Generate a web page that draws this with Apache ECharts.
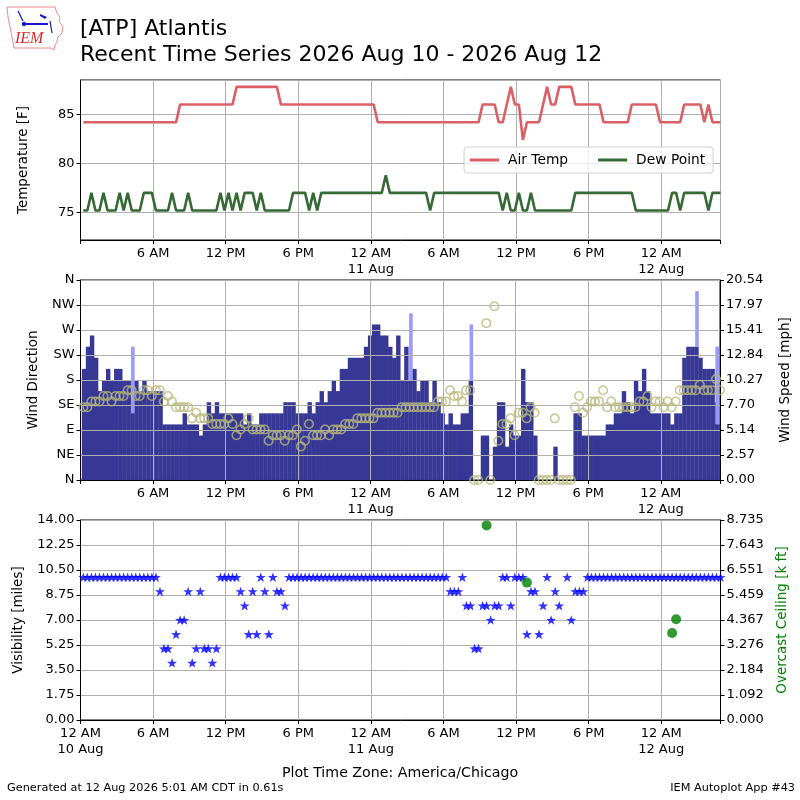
<!DOCTYPE html>
<html>
<head>
<meta charset="utf-8">
<script src="https://cdn.jsdelivr.net/npm/echarts@6/dist/echarts.min.js"></script>
<style>
  html, body { margin: 0; padding: 0; background: #fff; }
  #chart { width: 800px; height: 800px; }
</style>
</head>
<body>
<div id="chart"></div>
<script>
// obs every 20 minutes, first one 00:14 on 10 Aug (x axis = hours since 10 Aug 00:00)
var FIRST_MIN = 14;
var STEP_MIN = 20;
var X_MAX = 52.9;

var airTemp = [
  84.2, 84.2, 84.2, 84.2, 84.2, 84.2, 84.2, 84.2, 84.2, 84.2, 84.2, 84.2,
  84.2, 84.2, 84.2, 84.2, 84.2, 84.2, 84.2, 84.2, 84.2, 84.2, 84.2, 84.2,
  86, 86, 86, 86, 86, 86, 86, 86, 86, 86, 86, 86,
  86, 86, 87.8, 87.8, 87.8, 87.8, 87.8, 87.8, 87.8, 87.8, 87.8, 87.8,
  87.8, 86, 86, 86, 86, 86, 86, 86, 86, 86, 86, 86,
  86, 86, 86, 86, 86, 86, 86, 86, 86, 86, 86, 86,
  86, 84.2, 84.2, 84.2, 84.2, 84.2, 84.2, 84.2, 84.2, 84.2, 84.2, 84.2,
  84.2, 84.2, 84.2, 84.2, 84.2, 84.2, 84.2, 84.2, 84.2, 84.2, 84.2, 84.2,
  84.2, 84.2, 84.2, 86, 86, 86, 86, 84.2, 84.2, 86, 87.8, 86,
  86, 82.4, 84.2, 84.2, 84.2, 84.2, 86, 87.8, 86, 86, 87.8, 87.8,
  87.8, 87.8, 86, 86, 86, 86, 86, 86, 86, 84.2, 84.2, 84.2,
  84.2, 84.2, 84.2, 84.2, 86, 86, 86, 86, 86, 86, 86, 84.2,
  84.2, 84.2, 84.2, 84.2, 84.2, 86, 86, 86, 86, 86, 84.2, 86,
  84.2, 84.2, 84.2
];
var dewPoint = [
  75.2, 75.2, 77, 75.2, 75.2, 77, 75.2, 75.2, 75.2, 77, 75.2, 77,
  75.2, 75.2, 75.2, 77, 77, 77, 75.2, 75.2, 75.2, 75.2, 77, 75.2,
  75.2, 75.2, 77, 75.2, 75.2, 75.2, 75.2, 75.2, 75.2, 75.2, 77, 75.2,
  77, 75.2, 77, 75.2, 77, 77, 77, 75.2, 77, 75.2, 75.2, 75.2,
  75.2, 75.2, 75.2, 75.2, 77, 77, 77, 77, 75.2, 77, 75.2, 77,
  77, 77, 77, 77, 77, 77, 77, 77, 77, 77, 77, 77,
  77, 77, 77, 78.8, 77, 77, 77, 77, 77, 77, 77, 77,
  77, 77, 75.2, 77, 77, 77, 77, 77, 77, 77, 77, 77,
  77, 77, 77, 77, 77, 77, 77, 77, 75.2, 77, 75.2, 75.2,
  77, 75.2, 75.2, 77, 75.2, 75.2, 75.2, 75.2, 75.2, 75.2, 75.2, 75.2,
  75.2, 75.2, 77, 77, 77, 77, 77, 77, 77, 77, 77, 77,
  77, 77, 77, 77, 77, 75.2, 75.2, 75.2, 75.2, 75.2, 75.2, 75.2,
  75.2, 75.2, 77, 77, 75.2, 77, 77, 77, 77, 77, 77, 75.2,
  77, 77, 77
];
// wind direction [deg], 0 = calm
var windDir = [
  200, 240, 260, 220, 160, 180, 200, 180, 200, 200, 180, 180,
  180, 180, 160, 180, 160, 160, 160, 160, 100, 100, 100, 100,
  100, 120, 100, 100, 100, 80, 100, 140, 120, 140, 120, 120,
  120, 120, 120, 120, 100, 120, 100, 100, 120, 120, 120, 120,
  120, 120, 140, 140, 140, 120, 120, 120, 140, 120, 140, 160,
  140, 160, 180, 160, 200, 200, 220, 220, 220, 220, 240, 260,
  280, 280, 260, 260, 240, 220, 260, 180, 240, 180, 200, 160,
  180, 180, 140, 180, 140, 120, 100, 120, 100, 100, 120, 120,
  180, 0, 0, 80, 80, 0, 60, 140, 140, 60, 100, 80,
  80, 200, 140, 140, 80, 0, 0, 0, 0, 60, 0, 0,
  0, 0, 120, 120, 80, 80, 80, 80, 80, 80, 100, 100,
  120, 120, 160, 140, 120, 180, 160, 200, 160, 120, 120, 120,
  120, 120, 100, 120, 120, 220, 240, 240, 240, 220, 200, 200,
  200, 140, 100
];
// wind speed [mph]
var windSpeed = [
  7.48, 7.48, 8.06, 8.06, 8.06, 8.63, 8.63, 8.06, 8.63, 8.63, 8.63, 9.21,
  9.21, 8.63, 8.63, 9.21, 9.21, 8.63, 9.21, 9.21, 8.06, 8.63, 8.06, 7.48,
  7.48, 7.48, 7.48, 6.33, 6.90, 6.33, 6.33, 6.33, 5.75, 5.75, 5.75, 5.75,
  6.33, 5.75, 4.60, 5.18, 5.75, 6.33, 5.18, 5.18, 5.18, 5.18, 4.03, 4.60,
  4.60, 4.60, 4.03, 4.60, 4.60, 5.18, 3.45, 4.03, 5.75, 4.60, 4.60, 4.60,
  5.18, 4.60, 5.18, 5.18, 5.18, 5.75, 5.75, 5.75, 6.33, 6.33, 6.33, 6.33,
  6.33, 6.90, 6.90, 6.90, 6.90, 6.90, 6.90, 7.48, 7.48, 7.48, 7.48, 7.48,
  7.48, 7.48, 7.48, 7.48, 8.06, 8.06, 8.06, 9.21, 8.63, 8.63, 8.06, 9.21,
  9.21, 0, 0, null, 16.11, 0, 17.84, 4.03, 5.75, 5.75, 6.33, 4.60,
  6.90, 6.90, 6.33, 7.48, 6.90, 0, 0, 0, 0, 6.33, 0, 0,
  0, 0, 7.48, 8.63, 6.90, 7.48, 8.06, 8.06, 8.06, 9.21, 7.48, 8.06,
  7.48, 7.48, 7.48, 7.48, 7.48, 7.48, 8.06, 8.06, 8.63, 7.48, 8.06, 8.06,
  7.48, 8.06, 7.48, 8.06, 9.21, 9.21, 9.21, 9.21, 9.21, 9.78, 9.21, 9.21,
  9.21, 10.36, 9.21
];
// variable wind direction ranges
var varIdx = [12, 81, 96, 152, 157];
var varLo = [120, 180, 180, 240, 100];
var varHi = [240, 300, 280, 340, 240];
// visibility [miles]
var visibility = [
  10, 10, 10, 10, 10, 10, 10, 10, 10, 10, 10, 10,
  10, 10, 10, 10, 10, 10, 10, 9, 5, 5, 4, 6,
  7, 7, 9, 4, 5, 9, 5, 5, 4, 5, 10, 10,
  10, 10, 10, 9, 8, 6, 9, 6, 10, 9, 6, 10,
  9, 9, 8, 10, 10, 10, 10, 10, 10, 10, 10, 10,
  10, 10, 10, 10, 10, 10, 10, 10, 10, 10, 10, 10,
  10, 10, 10, 10, 10, 10, 10, 10, 10, 10, 10, 10,
  10, 10, 10, 10, 10, 10, 10, 9, 9, 9, 10, 8,
  8, 5, 5, 8, 8, 7, 8, 8, 10, 10, 8, 10,
  10, 10, 6, 9, 9, 6, 8, 10, 7, 9, 8, null,
  10, 7, 9, 9, 9, 10, 10, 10, 10, 10, 10, 10,
  10, 10, 10, 10, 10, 10, 10, 10, 10, 10, 10, 10,
  10, 10, 10, 10, 10, 10, 10, 10, 10, 10, 10, 10,
  10, 10, 10
];
// overcast ceiling [k ft]
var ceilIdx = [100, 110, 146, 147];
var ceilVal = [8.5, 6.0, 3.8, 4.4];

var hourNames = ['12 AM', '6 AM', '12 PM', '6 PM'];
var dayNames = ['10 Aug', '11 Aug', '12 Aug'];
var tempTicks = ['75', '80', '85'];
var dirTicks = ['N', 'NE', 'E', 'SE', 'S', 'SW', 'W', 'NW', 'N'];
var speedTicks = ['0.00', '2.57', '5.14', '7.70', '10.27', '12.84', '15.41', '17.97', '20.54'];
var visTicks = ['0.00', '1.75', '3.50', '5.25', '7.00', '8.75', '10.50', '12.25', '14.00'];
var ceilTicks = ['0.000', '1.092', '2.184', '3.276', '4.367', '5.459', '6.551', '7.643', '8.735'];

var SPEED_MAX = 20.54;
var CEIL_MAX = 8.735;

function obsTime(i) {
  return (FIRST_MIN + STEP_MIN * i) / 60;
}

var tempData = [], dewData = [], dirData = [], speedData = [], visData = [];
for (var i = 0; i < airTemp.length; i++) {
  var t = obsTime(i);
  tempData.push([t, airTemp[i]]);
  dewData.push([t, dewPoint[i]]);
  if (windDir[i] > 0) {
    dirData.push([t, windDir[i], 0]);
  }
  if (windSpeed[i] !== null) {
    speedData.push([t, windSpeed[i]]);
  }
  if (visibility[i] !== null) {
    visData.push([t, visibility[i]]);
  }
}
var varData = [];
for (var k = 0; k < varIdx.length; k++) {
  varData.push([obsTime(varIdx[k]), varHi[k], varLo[k]]);
}
var ceilData = [];
for (var c = 0; c < ceilIdx.length; c++) {
  ceilData.push([obsTime(ceilIdx[c]), ceilVal[c]]);
}

var FONT = 'DejaVu Sans';
var GRID_COLOR = '#b0b0b0';

function timeLabel(skipFirst) {
  return function (v) {
    if (Math.abs(v / 6 - Math.round(v / 6)) > 1e-6) {
      return '';
    }
    if (skipFirst && v < 1e-6) {
      return '';
    }
    var h = Math.round(v);
    var hr = h % 24;
    if (hr === 0) {
      return hourNames[0] + '\n' + dayNames[Math.floor(h / 24)];
    }
    return hourNames[hr / 6];
  };
}

function tickLabel(list, step) {
  return function (v) {
    var idx = Math.round(v / step);
    return Math.abs(v - idx * step) < step * 1e-3 ? list[idx] : '';
  };
}

function xAxisFor(gridIndex, skipFirst) {
  return {
    type: 'value', gridIndex: gridIndex, min: 0, max: X_MAX, interval: 6, z: 1,
    axisLine: {show: true, lineStyle: {color: '#000', width: 1}},
    axisTick: {show: true, inside: false, length: 4, lineStyle: {color: '#000'}},
    axisLabel: {
      formatter: timeLabel(skipFirst), color: '#000', fontFamily: FONT,
      fontSize: 13, lineHeight: 16, margin: 6, showMaxLabel: true
    },
    splitLine: {show: true, lineStyle: {color: GRID_COLOR, width: 1}}
  };
}

function yAxisBase(extra) {
  var base = {
    type: 'value', z: 1,
    nameLocation: 'middle', nameRotate: 90,
    nameTextStyle: {color: '#000', fontFamily: FONT, fontSize: 13.5},
    axisLine: {show: true, lineStyle: {color: '#000', width: 1}},
    axisTick: {show: true, inside: false, length: 4, lineStyle: {color: '#000'}},
    axisLabel: {color: '#000', fontFamily: FONT, fontSize: 13, margin: 6},
    splitLine: {show: true, lineStyle: {color: GRID_COLOR, width: 1}}
  };
  for (var key in extra) {
    base[key] = extra[key];
  }
  return base;
}

function barRenderer(before, after) {
  return function (params, api) {
    var t = api.value(0);
    var p0 = api.coord([t - before, api.value(1)]);
    var p1 = api.coord([t + after, api.value(2)]);
    var cs = params.coordSys;
    var rect = echarts.graphic.clipRectByRect(
      {x: p0[0], y: p0[1], width: p1[0] - p0[0], height: p1[1] - p0[1]},
      {x: cs.x, y: cs.y, width: cs.width, height: cs.height}
    );
    if (!rect) {
      return;
    }
    return {type: 'rect', shape: rect, style: {fill: api.visual('color')}};
  };
}

var STAR = 'path://M0,-10L2.35,-3.24L9.51,-3.09L3.8,1.24L5.88,8.09L0,4L-5.88,8.09L-3.8,1.24L-9.51,-3.09L-2.35,-3.24Z';

var chart = echarts.init(document.getElementById('chart'), null, {renderer: 'canvas'});
var option = {
  animation: false,
  backgroundColor: '#fff',
  textStyle: {fontFamily: FONT},
  title: [
    {text: '[ATP] Atlantis', left: 80, top: 18, padding: 0,
      textStyle: {fontFamily: FONT, fontSize: 22, fontWeight: 'normal', color: '#000'}},
    {text: 'Recent Time Series 2026 Aug 10 - 2026 Aug 12', left: 80, top: 44, padding: 0,
      textStyle: {fontFamily: FONT, fontSize: 22, fontWeight: 'normal', color: '#000'}}
  ],
  legend: {
    data: ['Air Temp', 'Dew Point'],
    left: 464, top: 147, itemWidth: 29, itemHeight: 3, itemGap: 30,
    icon: 'rect', padding: [6, 8, 6, 6],
    backgroundColor: 'rgba(255,255,255,0.8)', borderColor: '#d0d0d0', borderWidth: 1, borderRadius: 3,
    textStyle: {fontFamily: FONT, fontSize: 13.8, color: '#000', padding: [0, 0, 0, 4]}
  },
  grid: [
    {left: 80.5, top: 80, width: 640, height: 160, show: true, borderColor: '#000', borderWidth: 1},
    {left: 80.5, top: 280, width: 640, height: 200, show: true, borderColor: '#000', borderWidth: 1},
    {left: 80.5, top: 520, width: 640, height: 200, show: true, borderColor: '#000', borderWidth: 1}
  ],
  xAxis: [xAxisFor(0, true), xAxisFor(1, true), xAxisFor(2, false)],
  yAxis: [
    yAxisBase({gridIndex: 0, min: 72.2, max: 88.5, minInterval: 5, maxInterval: 5,
      name: 'Temperature [F]', nameGap: 50,
      axisLabel: {color: '#000', fontFamily: FONT, fontSize: 13, margin: 6,
        showMinLabel: false, showMaxLabel: false,
        formatter: function (v) {
          var idx = Math.round((v - 75) / 5);
          return Math.abs(v - (75 + idx * 5)) < 1e-6 && tempTicks[idx] ? tempTicks[idx] : '';
        }}}),
    yAxisBase({gridIndex: 0, position: 'right', min: 72.2, max: 88.5, show: false}),
    yAxisBase({gridIndex: 1, min: 0, max: 360, interval: 45,
      name: 'Wind Direction', nameGap: 40,
      axisLabel: {color: '#000', fontFamily: FONT, fontSize: 13, margin: 6,
        formatter: tickLabel(dirTicks, 45)}}),
    yAxisBase({gridIndex: 1, position: 'right', min: 0, max: SPEED_MAX, interval: SPEED_MAX / 8,
      name: 'Wind Speed [mph]', nameGap: 58,
      splitLine: {show: false},
      axisLabel: {color: '#000', fontFamily: FONT, fontSize: 13, margin: 6,
        formatter: tickLabel(speedTicks, SPEED_MAX / 8)}}),
    yAxisBase({gridIndex: 2, min: 0, max: 14, interval: 1.75,
      name: 'Visibility [miles]', nameGap: 55,
      axisLabel: {color: '#000', fontFamily: FONT, fontSize: 13, margin: 6,
        formatter: tickLabel(visTicks, 1.75)}}),
    yAxisBase({gridIndex: 2, position: 'right', min: 0, max: CEIL_MAX, interval: CEIL_MAX / 8,
      name: 'Overcast Ceiling [k ft]', nameGap: 55,
      nameTextStyle: {color: '#008000', fontFamily: FONT, fontSize: 13.5},
      splitLine: {show: false},
      axisLabel: {color: '#000', fontFamily: FONT, fontSize: 13, margin: 6,
        formatter: tickLabel(ceilTicks, CEIL_MAX / 8)}})
  ],
  series: [
    {name: 'Air Temp', type: 'line', xAxisIndex: 0, yAxisIndex: 0, data: tempData,
      showSymbol: false, clip: true, color: '#dc5f65',
      lineStyle: {width: 2.6, color: '#dc5f65'}, z: 3},
    {name: 'Dew Point', type: 'line', xAxisIndex: 0, yAxisIndex: 0, data: dewData,
      showSymbol: false, clip: true, color: '#356a34',
      lineStyle: {width: 2.6, color: '#356a34'}, z: 3},
    {name: 'Wind Direction', type: 'custom', xAxisIndex: 1, yAxisIndex: 2, data: dirData,
      renderItem: barRenderer(0.125, 0.24), encode: {x: 0, y: [1, 2]},
      itemStyle: {color: '#373795'}, z: 0, clip: true},
    {name: 'Variable Direction', type: 'custom', xAxisIndex: 1, yAxisIndex: 2, data: varData,
      renderItem: barRenderer(0.05, 0.245), encode: {x: 0, y: [1, 2]},
      itemStyle: {color: '#9999ff'}, z: 0.5, clip: true},
    {name: 'Wind Speed', type: 'scatter', xAxisIndex: 1, yAxisIndex: 3, data: speedData,
      symbol: 'circle', symbolSize: 8.5, clip: true,
      itemStyle: {color: 'rgba(0,0,0,0)', borderColor: '#b8b87c', borderWidth: 1.5}, z: 3},
    {name: 'Visibility', type: 'scatter', xAxisIndex: 2, yAxisIndex: 4, data: visData,
      symbol: STAR, symbolSize: 10, symbolKeepAspect: true, clip: true,
      itemStyle: {color: '#0000ff'}, z: 3},
    {name: 'Ceiling', type: 'scatter', xAxisIndex: 2, yAxisIndex: 5, data: ceilData,
      symbol: 'circle', symbolSize: 10, clip: false,
      itemStyle: {color: '#008000'}, z: 4}
  ],
  graphic: [
    // IEM logo (simplified)
    {type: 'polygon', shape: {points: [[7, 7], [55, 7], [57, 13], [60, 17], [59, 21], [63, 27], [62, 33],
      [58, 37], [57, 42], [55, 45], [54, 50], [51, 48], [14, 48], [12, 37], [10, 27], [8, 17]]},
      style: {fill: 'none', stroke: '#e88a8a', lineWidth: 1}},
    {type: 'line', shape: {x1: 23, y1: 24, x2: 48, y2: 24}, style: {stroke: '#1a1acc', lineWidth: 2}},
    {type: 'circle', shape: {cx: 24, cy: 24, r: 2.2}, style: {fill: '#1a1acc'}},
    {type: 'line', shape: {x1: 18, y1: 11, x2: 23, y2: 21}, style: {stroke: '#1a1acc', lineWidth: 1.2}},
    {type: 'polygon', shape: {points: [[40, 14], [47, 17], [45, 19], [40, 16]]}, style: {fill: '#1a1acc'}},
    {type: 'line', shape: {x1: 50, y1: 21, x2: 52, y2: 33}, style: {stroke: '#1a1acc', lineWidth: 1.2}},
    {type: 'text', left: 15, top: 31,
      style: {text: 'IEM', fill: '#d42a2a', font: 'italic 16px "Liberation Serif", serif'}},
    // footer
    {type: 'text', left: 'center', top: 766,
      style: {text: 'Plot Time Zone: America/Chicago', fill: '#000', font: '14.2px "DejaVu Sans"'}},
    {type: 'text', left: 7, top: 783,
      style: {text: 'Generated at 12 Aug 2026 5:01 AM CDT in 0.61s', fill: '#000', font: '11.3px "DejaVu Sans"'}},
    {type: 'text', right: 5, top: 783,
      style: {text: 'IEM Autoplot App #43', fill: '#000', font: '11.3px "DejaVu Sans"'}}
  ]
};
chart.setOption(option);
</script>
</body>
</html>
